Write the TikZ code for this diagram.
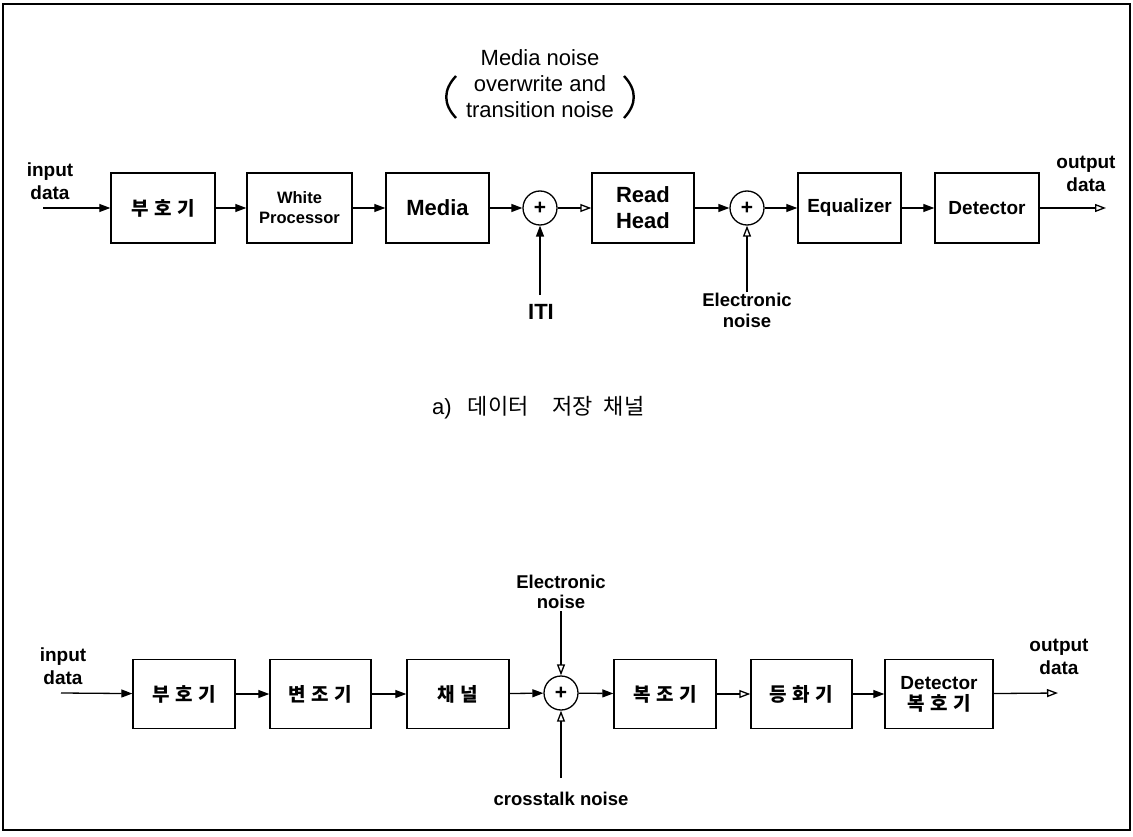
\documentclass[tikz,border=0pt]{standalone}
\usepackage{fontspec}
\setmainfont{Liberation Sans}
\newfontfamily\kr{Noto Sans CJK KR}
\newcommand\krsp{\hspace{0.3em}}
\usetikzlibrary{arrows.meta}
\begin{document}
\begin{tikzpicture}[x=1pt,y=-1pt,
  blk/.style={draw,line width=1.4pt,rectangle,inner sep=0pt,minimum height=70pt,align=center},
  sumnode/.style={draw,circle,line width=1.3pt,minimum size=34pt,inner sep=0pt,font={\fontsize{21}{21}\selectfont\bfseries}},
  lbl/.style={align=center,inner sep=0pt,font={\fontsize{19}{23}\selectfont\bfseries}},
  fa/.style={line width=1.3pt,-{Triangle[length=11pt,width=8pt]}},
  oa/.style={line width=1.3pt,-{Triangle[open,length=11pt,width=8pt]}},
  krtxt/.style={font={\fontsize{19}{23}\selectfont\kr\bfseries}},
  ]
\useasboundingbox (0,0) rectangle (1133,837);
\draw[line width=1.5pt] (3,4) rectangle (1130,830);

% ---------- top row ----------
\node[blk,minimum width=104pt,krtxt] (b1) at (163,208) {부\krsp 호\krsp 기};
\node[blk,minimum width=105pt,font={\fontsize{16.5}{20}\selectfont\bfseries}] (b2) at (299.5,208) {White\\Processor};
\node[blk,minimum width=103pt,font={\fontsize{22}{26}\selectfont\bfseries}] (b3) at (437.5,208) {Media};
\node[sumnode] (s1) at (540,208) {+};
\node[blk,minimum width=102pt,font={\fontsize{22}{26}\selectfont\bfseries}] (b4) at (643,208) {Read\\Head};
\node[sumnode] (s2) at (747,208) {+};
\node[blk,minimum width=103pt,font={\fontsize{19}{23}\selectfont\bfseries}] (b5) at (849.5,208) {Equalizer};
\node[blk,minimum width=104pt,font={\fontsize{19}{23}\selectfont\bfseries}] (b6) at (987,208) {Detector};

\coordinate (in1) at (43,208);
\coordinate (out1) at (1106,208);
\coordinate (iti) at (540,295);
\coordinate (en1) at (747,292);

\node[lbl] (tin1) at (50,181) {input\\data};
\node[lbl] (tout1) at (1086,174) {output\\data};
\node[inner sep=0pt,font={\fontsize{22}{22}\selectfont\bfseries}] (titi) at (541,312) {ITI};
\node[lbl,font={\fontsize{18.5}{21}\selectfont\bfseries}] (ten1) at (747,310) {Electronic\\noise};

\node[align=center,inner sep=0pt,font={\fontsize{22}{26}\selectfont}] (mnoise) at (540,84) {Media noise\\overwrite and\\transition noise};
\draw[line width=2.4pt] (456,76) .. controls (443,90) and (443,104) .. (456,118);
\draw[line width=2.4pt] (624,76) .. controls (637,90) and (637,104) .. (624,118);

\draw[fa] (in1) -- (b1);
\draw[fa] (b1) -- (b2);
\draw[fa] (b2) -- (b3);
\draw[fa] (b3) -- (s1);
\draw[oa] (s1) -- (b4);
\draw[fa] (b4) -- (s2);
\draw[fa] (s2) -- (b5);
\draw[fa] (b5) -- (b6);
\draw[oa] (b6) -- (out1);
\draw[fa] (iti) -- (s1);
\draw[oa] (en1) -- (s2);

% caption
\node[anchor=west,inner sep=0pt] (cap) at (432,408) {\fontsize{22}{26}\selectfont a)\hspace{16pt}{\kr 데이터}\hspace{24pt}{\kr 저장}\hspace{11pt}{\kr 채널}};

% ---------- bottom row ----------
\node[blk,minimum width=102pt,minimum height=69pt,krtxt] (c1) at (184,694) {부\krsp 호\krsp 기};
\node[blk,minimum width=101pt,minimum height=69pt,krtxt] (c2) at (320.5,694) {변\krsp 조\krsp 기};
\node[blk,minimum width=102pt,minimum height=69pt,krtxt] (c3) at (458,694) {채\krsp 널};
\node[sumnode,font={\fontsize{21}{21}\selectfont\bfseries}] (s3) at (561,693) {+};
\node[blk,minimum width=102pt,minimum height=69pt,krtxt] (c4) at (665,694) {복\krsp 조\krsp 기};
\node[blk,minimum width=101pt,minimum height=69pt,krtxt] (c5) at (801.5,694) {등\krsp 화\krsp 기};
\node[blk,minimum width=108pt,minimum height=69pt,font={\fontsize{19}{21}\selectfont\bfseries}] (c6) at (939,694) {Detector\\{\kr\bfseries 복\krsp 호\krsp 기}};

\coordinate (in2) at (61,693);
\coordinate (out2) at (1058,693);
\coordinate (en2) at (561,611);
\coordinate (ct) at (561,778);

\node[lbl] (tin2) at (63,666) {input\\data};
\node[lbl] (tout2) at (1059,657) {output\\data};
\node[lbl,font={\fontsize{18.5}{20}\selectfont\bfseries}] (ten2) at (561,592) {Electronic\\noise};
\node[lbl,font={\fontsize{18.5}{21}\selectfont\bfseries}] (tct) at (561,799) {crosstalk noise};

\draw[fa] (in2) -- (c1);
\draw[fa] (c1) -- (c2);
\draw[fa] (c2) -- (c3);
\draw[fa] (c3) -- (s3);
\draw[fa] (s3) -- (c4);
\draw[oa] (c4) -- (c5);
\draw[fa] (c5) -- (c6);
\draw[oa] (c6) -- (out2);
\draw[oa] (en2) -- (s3);
\draw[oa] (ct) -- (s3);
\end{tikzpicture}
\end{document}
